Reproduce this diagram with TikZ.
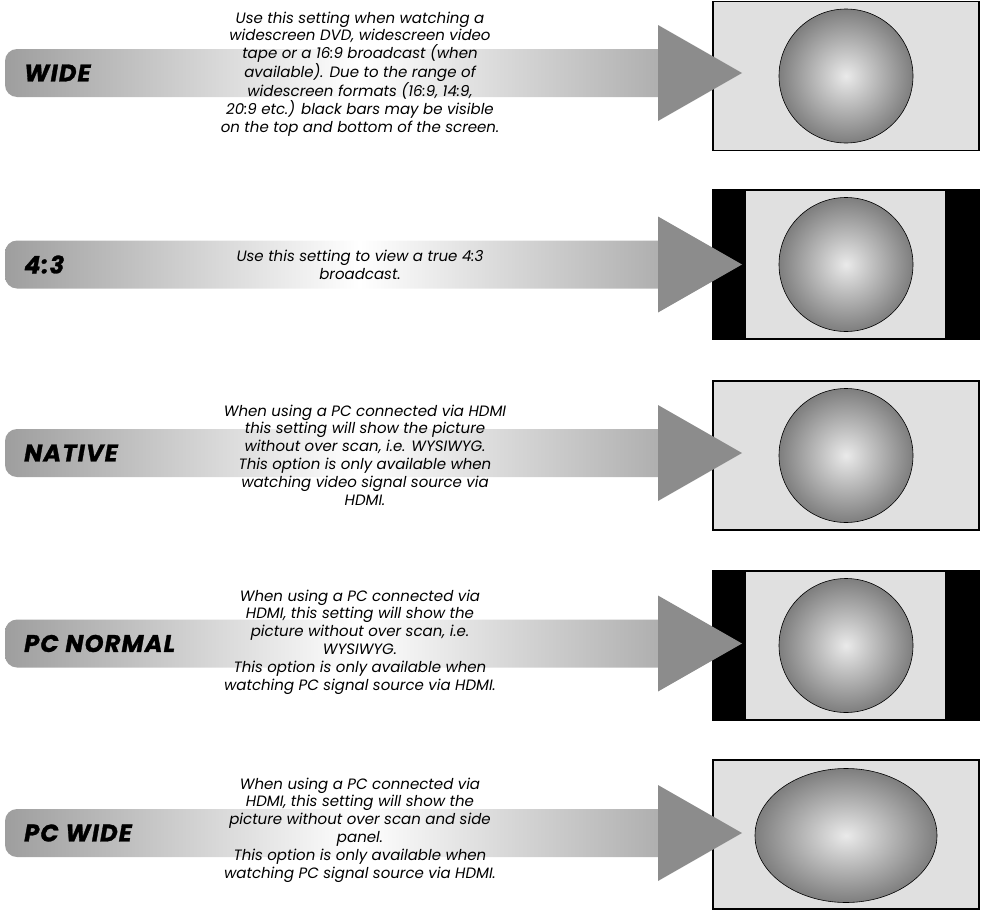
\documentclass[tikz,border=0pt]{standalone}
\usepackage{fontspec}
\setmainfont{Poppins}
\definecolor{barL}{HTML}{9E9E9E}
\definecolor{barR}{HTML}{A4A4A4}
\definecolor{tri}{HTML}{8C8C8C}
\definecolor{scr}{HTML}{E0E0E0}
\definecolor{ballin}{HTML}{EAEAEA}
\definecolor{ballout}{HTML}{7E7E7E}
\pgfdeclarehorizontalshading{barshade}{100bp}{color(0bp)=(barL); color(25bp)=(barL); color(50.5bp)=(white); color(75bp)=(barR); color(100bp)=(barR)}
\tikzset{
  barbox/.style={shading=barshade, rounded corners=12pt},
  title/.style={font=\fontsize{24}{26}\selectfont\bfseries\itshape\addfontfeatures{FakeBold=1.2,LetterSpace=5}, anchor=west, inner sep=0pt},
  desc/.style={font=\fontsize{15}{17.8}\selectfont\itshape, align=center, inner sep=0pt},
  screenbox/.style={fill=scr, draw=black, line width=1.4pt},
  sidebar/.style={fill=black},
  ball/.style={draw=black, line width=0.6pt, inner color=ballin, outer color=ballout},
  pointer/.style={fill=tri},
}
% #1 bar centre y, #2 screen centre y
\newcommand\rowbase[2]{%
  \path[barbox] (5,#1-24) rectangle (700,#1+24);
  \path[screenbox] (713,#2-74.5) rectangle (979,#2+74.5);
}
\newcommand\rowarrow[1]{%
  \path[pointer] (658,#1-48) -- (742,#1) -- (658,#1+48) -- cycle;
}
\begin{document}
\begin{tikzpicture}[x=1pt,y=-1pt]
\useasboundingbox (0,0) rectangle (983,910);

% ---------- WIDE
\rowbase{73}{76}
\path[ball] (846,76) circle (67);
\rowarrow{73}
\node[title] (t1) at (24,73) {WIDE};
\node[desc] (d1) at (360,74) {Use this setting when watching a\\ widescreen DVD, widescreen video\\ tape or a 16:9 broadcast (when\\ available). Due to the range of\\ widescreen formats (16:9, 14:9,\\ 20:9 etc.) black bars may be visible\\ on the top and bottom of the screen.};

% ---------- 4:3
\rowbase{264.5}{264.5}
\path[sidebar] (713,190) rectangle (746,339);
\path[sidebar] (945,190) rectangle (979,339);
\draw[black, line width=1.4pt] (713,190) rectangle (979,339);
\path[ball] (846,264.5) circle (67);
\rowarrow{264.5}
\node[title] (t2) at (24,264.5) {4:3};
\node[desc] (d2) at (360,265) {Use this setting to view a true 4:3\\ broadcast.};

% ---------- NATIVE
\rowbase{453}{455.5}
\path[ball] (846,455.5) circle (67);
\rowarrow{453}
\node[title] (t3) at (24,453) {NATIVE};
\node[desc] (d3) at (365,455) {When using a PC connected via HDMI\\ this setting will show the picture\\ without over scan, i.e. WYSIWYG.\\ This option is only available when\\ watching video signal source via\\ HDMI.};

% ---------- PC NORMAL
\rowbase{643.5}{645.5}
\path[sidebar] (713,571) rectangle (746,720);
\path[sidebar] (945,571) rectangle (979,720);
\draw[black, line width=1.4pt] (713,571) rectangle (979,720);
\path[ball] (846,645.5) circle (67);
\rowarrow{643.5}
\node[title] (t4) at (24,643.5) {PC NORMAL};
\node[desc] (d4) at (360,642) {When using a PC connected via\\ HDMI, this setting will show the\\ picture without over scan, i.e.\\ WYSIWYG.\\ This option is only available when\\ watching PC signal source via HDMI.};

% ---------- PC WIDE
\rowbase{833}{834.5}
\path[ball] (846,835.5) ellipse (91 and 67);
\rowarrow{833}
\node[title] (t5) at (24,833) {PC WIDE};
\node[desc] (d5) at (360,830) {When using a PC connected via\\ HDMI, this setting will show the\\ picture without over scan and side\\ panel.\\ This option is only available when\\ watching PC signal source via HDMI.};
\end{tikzpicture}
\end{document}
